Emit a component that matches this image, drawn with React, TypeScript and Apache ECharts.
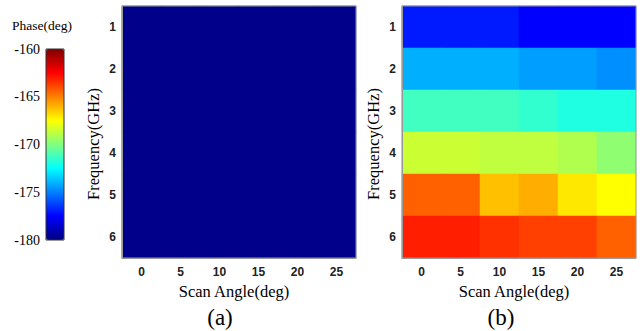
import React, { useEffect, useRef } from "react";
import * as echarts from "echarts";

const angles = ["0", "5", "10", "15", "20", "25"];
const freqs = ["1", "2", "3", "4", "5", "6"];
const colorTicks = [-180, -175, -170, -165, -160];

// Panel (a): phase per frequency row (1..6) and scan angle column (0..25)
const phaseA1 = [-179.8, -179.8, -179.8, -179.8, -179.8, -179.8];
const phaseA2 = [-179.8, -179.8, -179.8, -179.8, -179.8, -179.8];
const phaseA3 = [-179.8, -179.8, -179.8, -179.8, -179.8, -179.8];
const phaseA4 = [-179.8, -179.8, -179.8, -179.8, -179.8, -179.8];
const phaseA5 = [-179.8, -179.8, -179.8, -179.8, -179.8, -179.8];
const phaseA6 = [-179.8, -179.8, -179.8, -179.8, -179.8, -179.8];

// Panel (b)
const phaseB1 = [-177.0, -177.0, -177.0, -177.5, -177.5, -177.5];
const phaseB2 = [-174.05, -174.05, -174.05, -174.4, -174.4, -174.7];
const phaseB3 = [-171.25, -171.25, -171.25, -171.55, -171.9, -171.9];
const phaseB4 = [-168.5, -168.5, -168.75, -168.75, -169.05, -169.7];
const phaseB5 = [-164.4, -164.4, -166.25, -165.9, -167.05, -167.5];
const phaseB6 = [-163.1, -163.1, -163.45, -163.75, -163.75, -164.4];

const phaseA = [phaseA1, phaseA2, phaseA3, phaseA4, phaseA5, phaseA6];
const phaseB = [phaseB1, phaseB2, phaseB3, phaseB4, phaseB5, phaseB6];

const jet = [
  "#000080",
  "#0000ff",
  "#0080ff",
  "#00ffff",
  "#80ff80",
  "#ffff00",
  "#ff8000",
  "#ff0000",
  "#800000",
];

function toCells(rows: number[][]) {
  const out: [number, number, number][] = [];
  rows.forEach((row, yi) => row.forEach((v, xi) => out.push([xi, yi, v])));
  return out;
}

const serif = "'Liberation Serif', 'Times New Roman', serif";
const sans = "'Liberation Sans', Arial, sans-serif";

function heatAxes(gridIndex: number) {
  const x = {
    type: "category",
    gridIndex,
    data: angles,
    z: 10,
    axisLine: { show: true, lineStyle: { color: "#999", width: 1 } },
    axisTick: { show: false },
    splitArea: { show: false },
    axisLabel: {
      margin: 8,
      fontFamily: sans,
      fontWeight: "bold",
      fontSize: 12,
      color: "#222",
    },
    name: "Scan Angle(deg)",
    nameLocation: "middle",
    nameGap: 22,
    nameTextStyle: {
      fontFamily: serif,
      fontSize: 16.5,
      color: "#000",
      padding: [0, 10, 0, 0],
    },
  };
  const y = {
    type: "category",
    gridIndex,
    data: freqs,
    inverse: true,
    z: 10,
    axisLine: { show: true, lineStyle: { color: "#999", width: 1 } },
    axisTick: { show: false },
    splitArea: { show: false },
    axisLabel: {
      margin: 6,
      fontFamily: sans,
      fontWeight: "bold",
      fontSize: 12,
      color: "#222",
    },
    name: "Frequency(GHz)",
    nameLocation: "middle",
    nameRotate: 90,
    nameGap: 20,
    nameTextStyle: {
      fontFamily: serif,
      fontSize: 16.5,
      color: "#000",
      padding: [0, 24, 0, 0],
    },
  };
  return { x, y };
}

export default function App() {
  const ref = useRef<HTMLDivElement>(null);
  useEffect(() => {
    if (!ref.current) return;
    const chart = echarts.init(ref.current, undefined, { renderer: "svg" });
    const a = heatAxes(0);
    const b = heatAxes(1);
    chart.setOption({
      animation: false,
      backgroundColor: "#fff",
      grid: [
        { left: 122, top: 6, width: 234, height: 252, show: true, borderColor: "#999", borderWidth: 1, z: 10, backgroundColor: "transparent" },
        { left: 402, top: 6, width: 234, height: 252, show: true, borderColor: "#999", borderWidth: 1, z: 10, backgroundColor: "transparent" },
        { left: 46, top: 49, width: 18, height: 191, show: true, borderColor: "#333", borderWidth: 1, z: 10, backgroundColor: "transparent" },
      ],
      xAxis: [a.x, b.x, { type: "value", gridIndex: 2, show: false, min: 0, max: 1 }],
      yAxis: [
        a.y,
        b.y,
        {
          type: "value",
          gridIndex: 2,
          min: colorTicks[0],
          max: colorTicks[colorTicks.length - 1],
          interval: 5,
          axisLine: { show: false },
          axisTick: { show: false },
          splitLine: { show: false },
          axisLabel: { margin: 6, fontFamily: serif, fontSize: 14, color: "#000" },
        },
      ],
      visualMap: {
        type: "continuous",
        min: -180,
        max: -160,
        seriesIndex: [0, 1],
        orient: "vertical",
        left: 46,
        top: 49,
        itemWidth: 18,
        itemHeight: 191,
        padding: 0,
        calculable: false,
        hoverLink: false,
        inRange: { color: jet },
      },
      graphic: [
        {
          type: "text",
          x: 12,
          y: 25,
          style: {
            text: "Phase(deg)",
            fontFamily: serif,
            fontSize: 13.5,
            fill: "#000",
            textAlign: "left",
            textVerticalAlign: "middle",
            align: "left",
            verticalAlign: "middle",
          },
        },
        {
          type: "text",
          x: 220,
          y: 317,
          style: {
            text: "(a)",
            fontFamily: serif,
            fontSize: 23,
            fill: "#000",
            textAlign: "center",
            textVerticalAlign: "middle",
            align: "center",
            verticalAlign: "middle",
          },
        },
        {
          type: "text",
          x: 501,
          y: 317,
          style: {
            text: "(b)",
            fontFamily: serif,
            fontSize: 23,
            fill: "#000",
            textAlign: "center",
            textVerticalAlign: "middle",
            align: "center",
            verticalAlign: "middle",
          },
        },
      ],
      series: [
        {
          type: "heatmap",
          xAxisIndex: 0,
          yAxisIndex: 0,
          data: toCells(phaseA),
          emphasis: { disabled: true },
        },
        {
          type: "heatmap",
          xAxisIndex: 1,
          yAxisIndex: 1,
          data: toCells(phaseB),
          emphasis: { disabled: true },
        },
      ],
    });
    return () => chart.dispose();
  }, []);
  return (
    <div
      ref={ref}
      style={{ position: "fixed", left: 0, top: 0, width: 642, height: 331 }}
    />
  );
}
